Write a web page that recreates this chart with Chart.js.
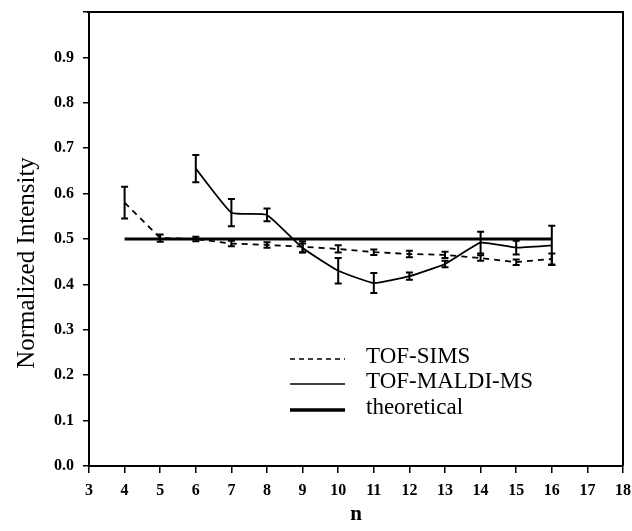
<!DOCTYPE html>
<html>
<head>
<meta charset="utf-8">
<script src="https://cdn.jsdelivr.net/npm/chart.js@4"></script>
<style>
  html, body { margin: 0; padding: 0; background: #fff; }
  #wrap { width: 632px; height: 531px; }
</style>
</head>
<body>
<div id="wrap"><canvas id="chart" width="632" height="531"></canvas></div>
<script>
// n values and normalized intensities
const simsN = [4, 5, 6, 7, 8, 9, 10, 11, 12, 13, 14, 15, 16];
const simsValues = [0.58, 0.502, 0.50, 0.49, 0.487, 0.483, 0.478, 0.471, 0.467, 0.465, 0.458, 0.449, 0.456];
const simsErrors = [0.035, 0.008, 0.005, 0.006, 0.006, 0.012, 0.008, 0.006, 0.007, 0.007, 0.006, 0.006, 0.012];

const maldiN = [6, 7, 8, 9, 10, 11, 12, 13, 14, 15, 16];
const maldiValues = [0.655, 0.558, 0.553, 0.48, 0.43, 0.403, 0.418, 0.445, 0.492, 0.481, 0.486];
const maldiErrors = [0.03, 0.03, 0.014, 0.01, 0.028, 0.022, 0.008, 0.007, 0.024, 0.015, 0.043];

const theoN = [4, 16];
const theoValues = [0.5, 0.5];

const xTicks = [3, 4, 5, 6, 7, 8, 9, 10, 11, 12, 13, 14, 15, 16, 17, 18];
const yTitle = 'Normalized Intensity';

function pts(xs, ys) {
  return xs.map((x, i) => ({ x: x, y: ys[i] }));
}

const serif = "'Liberation Serif', 'DejaVu Serif', serif";

// error bars with small caps
const errorBars = {
  id: 'errorBars',
  afterDatasetsDraw(chart) {
    const ctx = chart.ctx;
    const xs = chart.scales.x, ys = chart.scales.y;
    const sets = [[simsN, simsValues, simsErrors], [maldiN, maldiValues, maldiErrors]];
    ctx.save();
    ctx.strokeStyle = '#000';
    ctx.lineWidth = 2;
    sets.forEach(s => {
      s[0].forEach((n, i) => {
        const px = xs.getPixelForValue(n);
        const top = ys.getPixelForValue(s[1][i] + s[2][i]);
        const bot = ys.getPixelForValue(s[1][i] - s[2][i]);
        ctx.beginPath();
        ctx.moveTo(px, top); ctx.lineTo(px, bot);
        ctx.moveTo(px - 3.5, top); ctx.lineTo(px + 3.5, top);
        ctx.moveTo(px - 3.5, bot); ctx.lineTo(px + 3.5, bot);
        ctx.stroke();
      });
    });
    ctx.restore();
  }
};

// frame around the plot, y title and the legend inside the plot
const frameAndLegend = {
  id: 'frameAndLegend',
  afterDraw(chart) {
    const ctx = chart.ctx;
    const a = chart.chartArea;
    ctx.save();
    ctx.strokeStyle = '#000';
    ctx.lineWidth = 2;
    ctx.beginPath();
    ctx.moveTo(a.left - 2, a.top);
    ctx.lineTo(a.right, a.top);
    ctx.lineTo(a.right, a.bottom);
    ctx.stroke();

    // y axis title, a bit below the middle as in the original
    ctx.save();
    ctx.translate(27, 263);
    ctx.rotate(-Math.PI / 2);
    ctx.font = "25px " + serif;
    ctx.fillStyle = '#000';
    ctx.textAlign = 'center';
    ctx.textBaseline = 'middle';
    ctx.fillText(yTitle, 0, 0);
    ctx.restore();

    const rows = [
      { y: 359, w: 1.5, dash: [5, 4] },
      { y: 384, w: 1.5, dash: [] },
      { y: 410, w: 3.5, dash: [] }
    ];
    ctx.font = "23px " + serif;
    ctx.fillStyle = '#000';
    ctx.textBaseline = 'middle';
    chart.data.datasets.forEach((ds, i) => {
      const r = rows[i];
      ctx.lineWidth = r.w;
      ctx.setLineDash(r.dash);
      ctx.beginPath();
      ctx.moveTo(290, r.y); ctx.lineTo(345, r.y);
      ctx.stroke();
      ctx.setLineDash([]);
      ctx.fillText(ds.label, 366, r.y - 2);
    });
    ctx.restore();
  }
};

new Chart(document.getElementById('chart'), {
  type: 'line',
  data: {
    datasets: [
      {
        label: 'TOF-SIMS',
        data: pts(simsN, simsValues),
        borderColor: '#000',
        borderWidth: 1.8,
        borderDash: [6, 5],
        pointRadius: 0,
        tension: 0
      },
      {
        label: 'TOF-MALDI-MS',
        data: pts(maldiN, maldiValues),
        borderColor: '#000',
        borderWidth: 1.8,
        pointRadius: 0,
        tension: 0.12
      },
      {
        label: 'theoretical',
        data: pts(theoN, theoValues),
        borderColor: '#000',
        borderWidth: 3.2,
        pointRadius: 0
      }
    ]
  },
  options: {
    responsive: false,
    animation: false,
    layout: { padding: { left: 0, top: 12, right: 9, bottom: 0 } },
    plugins: { legend: { display: false }, tooltip: { enabled: false } },
    scales: {
      x: {
        type: 'linear',
        min: 3,
        max: 18,
        afterBuildTicks: s => { s.ticks = xTicks.map(v => ({ value: v })); },
        afterFit: s => { s.height = 65; s.paddingRight = 0; },
        border: { display: true, color: '#000', width: 2 },
        grid: { drawOnChartArea: false, color: '#000', lineWidth: 1.5, tickLength: 7 },
        ticks: {
          color: '#000',
          padding: 8,
          maxRotation: 0,
          font: { family: serif, size: 16, weight: 'bold' }
        },
        title: {
          display: true,
          text: 'n',
          color: '#000',
          font: { family: serif, size: 21, weight: 'bold' },
          padding: { top: 0, bottom: 4 }
        }
      },
      y: {
        min: 0,
        max: 1,
        afterFit: s => { s.width = 89; s.paddingTop = 0; },
        border: { display: true, color: '#000', width: 2 },
        grid: { drawOnChartArea: false, color: '#000', lineWidth: 1.5, tickLength: 6 },
        ticks: {
          stepSize: 0.1,
          color: '#000',
          padding: 9,
          font: { family: serif, size: 16, weight: 'bold' },
          callback: v => (v > 0.95 ? '' : v.toFixed(1))
        }
      }
    }
  },
  plugins: [errorBars, frameAndLegend]
});
</script>
</body>
</html>
